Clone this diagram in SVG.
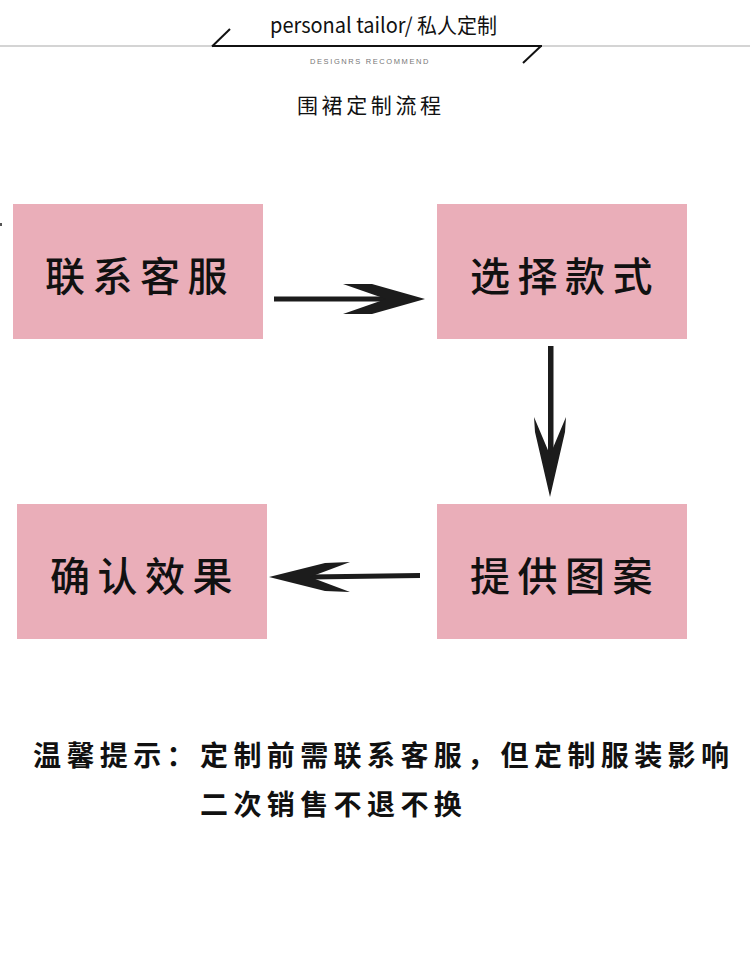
<svg xmlns="http://www.w3.org/2000/svg" width="750" height="959" viewBox="0 0 750 959">
<style>
.box{fill:#EAAEB9}
.bt{font-family:"Noto Sans CJK SC","Liberation Sans",sans-serif;font-size:40px;font-weight:500;letter-spacing:7.5px;fill:#111}
.tip{font-family:"Noto Sans CJK SC","Liberation Sans",sans-serif;font-size:28px;font-weight:700;letter-spacing:5.4px;fill:#111}
.arrow{fill:#1c1c1c}
</style>
<rect width="750" height="959" fill="#fff"/>
<g id="header">
<line x1="0" y1="46" x2="750" y2="46" stroke="#d4d4d4" stroke-width="2"/>
<line x1="212" y1="46" x2="542" y2="46" stroke="#111" stroke-width="2"/>
<line x1="212" y1="46.5" x2="230" y2="29" stroke="#111" stroke-width="2"/>
<line x1="541" y1="46" x2="523" y2="63" stroke="#111" stroke-width="2"/>
<text x="270" y="33" font-family="'Noto Sans CJK SC','Liberation Sans',sans-serif" font-size="21" fill="#111" textLength="227" lengthAdjust="spacingAndGlyphs">personal tailor/ 私人定制</text>
<text x="310" y="64" font-family="'Liberation Sans',sans-serif" font-size="7.5" fill="#777" letter-spacing="1.6">DESIGNRS RECOMMEND</text>
<text x="297" y="113" font-family="'Noto Sans CJK SC',sans-serif" font-size="21" fill="#111" letter-spacing="3.6">围裙定制流程</text>
<rect x="0" y="223" width="2" height="3" fill="#555"/>
</g>
<g id="node-contact">
<rect class="box" x="13" y="204" width="250" height="135"/>
<text class="bt" x="45" y="291">联系客服</text>
</g>
<g id="node-choose">
<rect class="box" x="437" y="204" width="250" height="135"/>
<text class="bt" x="470" y="291">选择款式</text>
</g>
<g id="node-pattern">
<rect class="box" x="437" y="504" width="250" height="135"/>
<text class="bt" x="470" y="591">提供图案</text>
</g>
<g id="node-confirm">
<rect class="box" x="17" y="504" width="250" height="135"/>
<text class="bt" x="50" y="591">确认效果</text>
</g>
<g id="connectors">
<rect class="arrow" x="274" y="296.5" width="112" height="5"/>
<polygon class="arrow" points="343,284 372,284 425,299 372,314 343,314 386,299"/>
<rect class="arrow" x="548" y="346" width="5.5" height="110"/>
<polygon class="arrow" points="534,417 550,455 566,417 565,432 550,497 535,432"/>
<polygon class="arrow" points="310,574.5 420,573 420,578 310,579.5"/>
<polygon class="arrow" points="350,562 325,563 269,577 325,591 350,592 310,577"/>
</g>
<g id="notice">
<text class="tip" x="33" y="766">温馨提示：定制前需联系客服，但定制服装影响</text>
<text class="tip" x="200" y="815">二次销售不退不换</text>
</g>
</svg>
